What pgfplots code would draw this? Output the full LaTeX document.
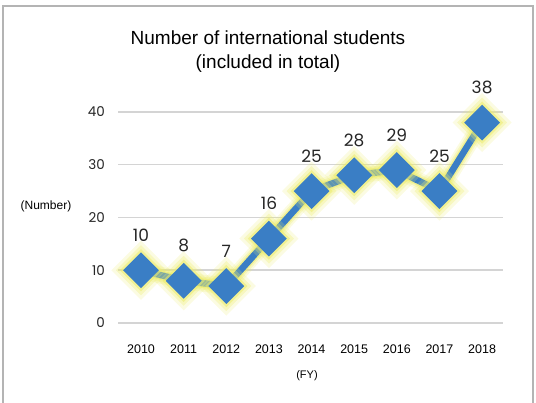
\documentclass[border=0pt]{standalone}
\usepackage{fontspec}
\setmainfont{Liberation Sans}
\newfontfamily\labelfont{Poppins}
\usepackage{pgfplots}
\pgfplotsset{compat=1.18}

\definecolor{lineblue}{RGB}{58,126,197}
\definecolor{glowyellow}{RGB}{236,236,110}
\definecolor{gridgray}{RGB}{212,212,212}
\definecolor{framegray}{RGB}{180,180,180}

\pgfplotstableread{
year students
2010 10
2011 8
2012 7
2013 16
2014 25
2015 28
2016 29
2017 25
2018 38
}\students

\begin{document}
\begin{tikzpicture}
\useasboundingbox (0,0) rectangle (536pt,403pt);
\draw[framegray, line width=1.5pt] (3pt,-2pt) -- (3pt,397pt) -- (533pt,397pt) -- (533pt,-2pt);

\node[font=\fontsize{19}{24}\selectfont, align=center] at (268pt,351pt)
    {Number of international students\\(included in total)};
\node[font=\fontsize{12}{14}\selectfont] at (46pt,197pt) {(Number)};
\node[font=\fontsize{11}{13}\selectfont] at (307pt,27pt) {(FY)};

\begin{axis}[
    at={(118pt,80pt)}, anchor=south west,
    scale only axis,
    width=385pt, height=211pt,
    xmin=2009.46, xmax=2018.49,
    ymin=0, ymax=40,
    xtick={2010,...,2018},
    ytick={0,10,20,30,40},
    /pgf/number format/1000 sep={},
    /pgf/number format/assume math mode=true,
    axis line style={draw=none},
    major tick length=0pt,
    ymajorgrids=true,
    grid style={gridgray, line width=1.5pt},
    xticklabel style={font=\fontsize{12.5}{14}\selectfont, anchor=center, inner sep=0pt, yshift=-26pt},
    yticklabel style={font=\labelfont\fontsize{13.5}{15}\selectfont, text=black!85, anchor=east, inner sep=0pt, xshift=-13pt},
    clip=false,
]
% soft yellow glow under the line
\addplot[glowyellow, opacity=0.2, line width=17pt, mark=square*, mark size=12.4pt,
    mark options={rotate=45, draw=none, fill=glowyellow}] table[x=year, y=students] {\students};
\addplot[glowyellow, opacity=0.3, line width=13pt, mark=square*, mark size=11.2pt,
    mark options={rotate=45, draw=none, fill=glowyellow}] table[x=year, y=students] {\students};
\addplot[glowyellow, opacity=0.55, line width=9.5pt, mark=square*, mark size=10.2pt,
    mark options={rotate=45, draw=none, fill=glowyellow}] table[x=year, y=students] {\students};
% main series
\addplot[lineblue, line width=6.5pt, mark=square*, mark size=9.4pt,
    mark options={rotate=45, draw=none, fill=lineblue},
    nodes near coords,
    nodes near coords style={font=\labelfont\fontsize{17}{20}\selectfont, text=black!85,
        anchor=center, yshift=35pt, inner sep=0pt}]
    table[x=year, y=students] {\students};
\end{axis}
\end{tikzpicture}
\end{document}
